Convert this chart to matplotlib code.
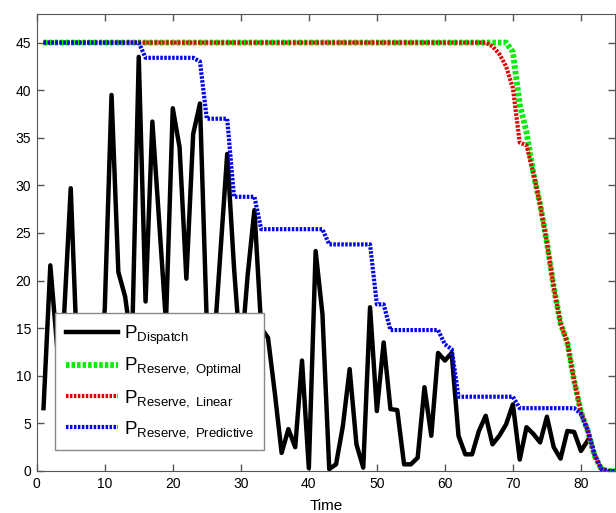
import matplotlib
matplotlib.use('Agg')
import matplotlib.pyplot as plt

# 调度功率 (t = 1..81)
t_dispatch = list(range(1, 82))
p_dispatch = [6.6, 21.6, 13, 16, 29.7, 11, 7.5, 13.5, 9, 17,
              39.5, 20.9, 18.3, 13, 43.5, 17.8, 36.7, 26.2, 15.6, 38.1,
              34.0, 20.2, 35.4, 38.6, 15.5, 12.5, 22.9, 33.3, 21.4, 11.7,
              20.5, 27.4, 15, 14, 8.2, 1.9, 4.4, 2.5, 11.6, 0.3,
              23.1, 16.5, 0.2, 0.7, 4.7, 10.7, 2.8, 0.35, 17.2, 6.3,
              13.5, 6.5, 6.4, 0.7, 0.7, 1.4, 8.8, 3.7, 12.4, 11.6,
              12.4, 3.7, 1.75, 1.75, 4.2, 5.8, 2.8, 3.7, 4.9, 7.0,
              1.2, 4.6, 3.9, 3.0, 5.7, 2.5, 1.3, 4.2, 4.1, 2.1,
              3.2]

# 备用功率 (折点)
t_optimal = [1, 69, 70, 71, 72, 73, 74, 75, 76, 77, 78, 79, 80, 81, 82, 83, 84, 85]
p_optimal = [45, 45, 44, 38.5, 35.6, 31.3, 28, 24, 19.3, 15.5, 13.5, 9.5, 6.2, 4.2, 1.6, 0.2, 0, 0]

t_linear = [1, 66, 67, 68, 69, 70, 71, 72, 73, 74, 75, 76, 77, 78, 79, 80, 81, 82, 83, 84, 85]
p_linear = [45, 45, 44.6, 43.8, 42.5, 40.2, 34.5, 34.2, 31.3, 28, 24, 19.3, 15.5, 13.5, 9.5, 6.2, 4.2, 1.6, 0.2, 0, 0]

t_predictive = [1, 15, 16, 23, 24, 25, 28, 29, 32, 33, 42, 43, 49, 50, 51, 52,
                59, 60, 61, 62, 70, 71, 79, 80, 81, 82, 83, 84, 85]
p_predictive = [45, 45, 43.4, 43.4, 43.0, 37.0, 37.0, 28.8, 28.8, 25.4, 25.4, 23.8, 23.8, 17.5, 17.5, 14.8,
                14.8, 13.3, 12.8, 7.8, 7.8, 6.6, 6.6, 6.0, 4.3, 1.8, 0.2, 0, 0]

plt.rcParams['font.family'] = ['Liberation Sans', 'DejaVu Sans']
plt.rcParams['mathtext.fontset'] = 'custom'
plt.rcParams['mathtext.rm'] = 'Liberation Sans'
plt.rcParams['mathtext.it'] = 'Liberation Sans:italic'

fig = plt.figure(figsize=(6.16, 5.13), dpi=100)
ax = fig.add_axes([0.0596, 0.0819, 0.9387, 0.8908])

dots = (0, (0.6, 0.35))
ax.plot(t_dispatch, p_dispatch, color='black', lw=3.2,
        label=r'$\mathrm{P}_{\mathrm{Dispatch}}$')
ax.plot(t_optimal, p_optimal, color='#00ee00', lw=4.2, linestyle=dots,
        label=r'$\mathrm{P}_{\mathrm{Reserve,\ Optimal}}$')
ax.plot(t_linear, p_linear, color='#e00000', lw=3.0, linestyle=dots,
        label=r'$\mathrm{P}_{\mathrm{Reserve,\ Linear}}$')
ax.plot(t_predictive, p_predictive, color='#0000ee', lw=3.0, linestyle=dots,
        label=r'$\mathrm{P}_{\mathrm{Reserve,\ Predictive}}$')

ax.set_xlim(0, 85)
ax.set_ylim(0, 48)
ax.set_xticks(range(0, 81, 10))
ax.set_yticks(range(0, 46, 5))
ax.tick_params(direction='in', top=True, right=True, length=5, width=1,
               labelsize=10, color='#555555', pad=4)
for s in ax.spines.values():
    s.set_color('#555555')
ax.set_xlabel('Time', fontsize=11, labelpad=6)

leg = ax.legend(loc='lower left', bbox_to_anchor=(0.032, 0.046), fontsize=13.5,
                frameon=True, fancybox=False, edgecolor='#888888', framealpha=1,
                handlelength=2.8, handletextpad=0.3, labelspacing=0.5,
                borderpad=0.55, borderaxespad=0)
leg.get_frame().set_linewidth(1)

fig.savefig('out.png', dpi=100)
